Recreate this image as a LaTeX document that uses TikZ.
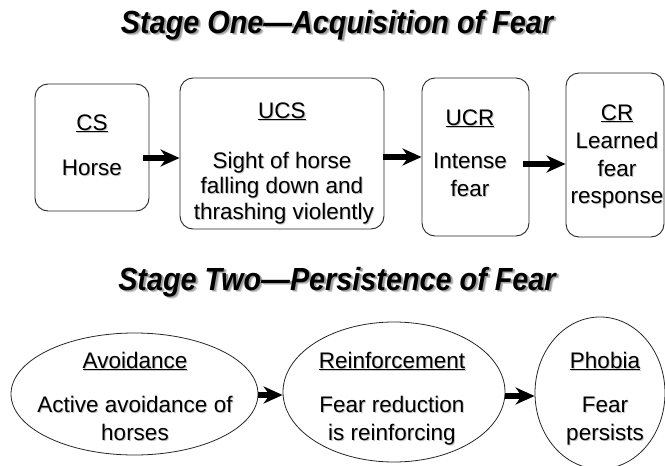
\documentclass[tikz,border=0pt]{standalone}
\usepackage{fontspec}
\setmainfont{Liberation Sans}
\newfontfamily\titlefont[FakeStretch=0.9]{Liberation Sans}
\usetikzlibrary{arrows.meta,shapes.geometric}

% soft grey drop shadow behind a line of text
\newcommand\shd[1]{\leavevmode\rlap{\kern1pt\raisebox{-1pt}{\textcolor{black!22}{#1}}}#1}
\newcommand\tshd[1]{\leavevmode
  \rlap{\kern2.6pt\raisebox{-2.6pt}{\textcolor{black!18}{#1}}}%
  \rlap{\kern1.8pt\raisebox{-1.8pt}{\textcolor{black!38}{#1}}}#1}

\tikzset{
  title/.style={font=\titlefont\fontsize{32}{36}\selectfont\bfseries\itshape, anchor=base, inner sep=0pt},
  txt/.style={font=\fontsize{22.5}{27}\selectfont, anchor=base, inner sep=0pt},
  box/.style={draw=black!85, line width=0.9pt, rounded corners=13pt, inner sep=0pt},
  oval/.style={draw=black!85, line width=0.8pt, ellipse, inner sep=0pt},
  arr/.style={line width=6pt, -{Stealth[length=19pt,width=17pt,inset=6pt]}},
}

\begin{document}
\begin{tikzpicture}[x=1pt,y=-1pt]
\useasboundingbox (0,0) rectangle (665,466);

% ---------- Stage one ----------
\node[title] (t1) at (337,33) {\tshd{Stage One—Acquisition of Fear}};

\node[box, minimum width=114pt, minimum height=127pt] (cs)  at (92,147.5) {};
\node[box, minimum width=204pt, minimum height=151pt] (ucs) at (282,153.5) {};
\node[box, minimum width=107pt, minimum height=158pt] (ucr) at (475.5,157) {};
\node[box, minimum width=98pt,  minimum height=164pt] (cr)  at (615,155) {};

\node[txt] (cs-h)  at (92,130)  {\shd{\underline{CS}}};
\node[txt] (cs-1)  at (92,175)  {\shd{Horse}};

\node[txt] (ucs-h) at (282,118) {\shd{\underline{UCS}}};
\node[txt] (ucs-1) at (282,168) {\shd{Sight of horse}};
\node[txt] (ucs-2) at (282,193) {\shd{falling down and}};
\node[txt] (ucs-3) at (284,219) {\shd{thrashing violently}};

\node[txt] (ucr-h) at (470,125) {\shd{\underline{UCR}}};
\node[txt] (ucr-1) at (470,168) {\shd{Intense}};
\node[txt] (ucr-2) at (470,196) {\shd{fear}};

\node[txt] (cr-h)  at (617,120) {\shd{\underline{CR}}};
\node[txt] (cr-1)  at (617,148) {\shd{Learned}};
\node[txt] (cr-2)  at (617,176) {\shd{fear}};
\node[txt] (cr-3)  at (617,203) {\shd{response}};

\draw[arr] ([xshift=-6pt,yshift=-10.5pt]cs.east) -- ([yshift=-4.5pt]ucs.west);
\draw[arr] ([xshift=-1pt,yshift=-3.5pt]ucs.east) -- (ucr.west);
\draw[arr] ([xshift=-6pt,yshift=-7pt]ucr.east) -- ([yshift=-9pt]cr.west);

% ---------- Stage two ----------
\node[title] (t2) at (337,290) {\tshd{Stage Two—Persistence of Fear}};

\node[oval, minimum width=247pt, minimum height=122pt] (avoid) at (134.5,394) {};
\node[oval, minimum width=222pt, minimum height=140pt] (reinf) at (394,392) {};
\node[oval, minimum width=130pt, minimum height=152pt] (phob)  at (600,393) {};

\node[txt] (avoid-h) at (135,368) {\shd{\underline{Avoidance}}};
\node[txt] (avoid-1) at (135,412) {\shd{Active avoidance of}};
\node[txt] (avoid-2) at (135,440) {\shd{horses}};

\node[txt] (reinf-h) at (392,368) {\shd{\underline{Reinforcement}}};
\node[txt] (reinf-1) at (392,412) {\shd{Fear reduction}};
\node[txt] (reinf-2) at (392,440) {\shd{is reinforcing}};

\node[txt] (phob-h) at (605,368) {\shd{\underline{Phobia}}};
\node[txt] (phob-1) at (605,412) {\shd{Fear}};
\node[txt] (phob-2) at (605,440) {\shd{persists}};

\draw[arr] ([yshift=-1pt]avoid.east) -- ([yshift=-3pt]reinf.west);
\draw[arr] ([yshift=-4pt]reinf.east) -- ([yshift=-3pt]phob.west);
\end{tikzpicture}
\end{document}
